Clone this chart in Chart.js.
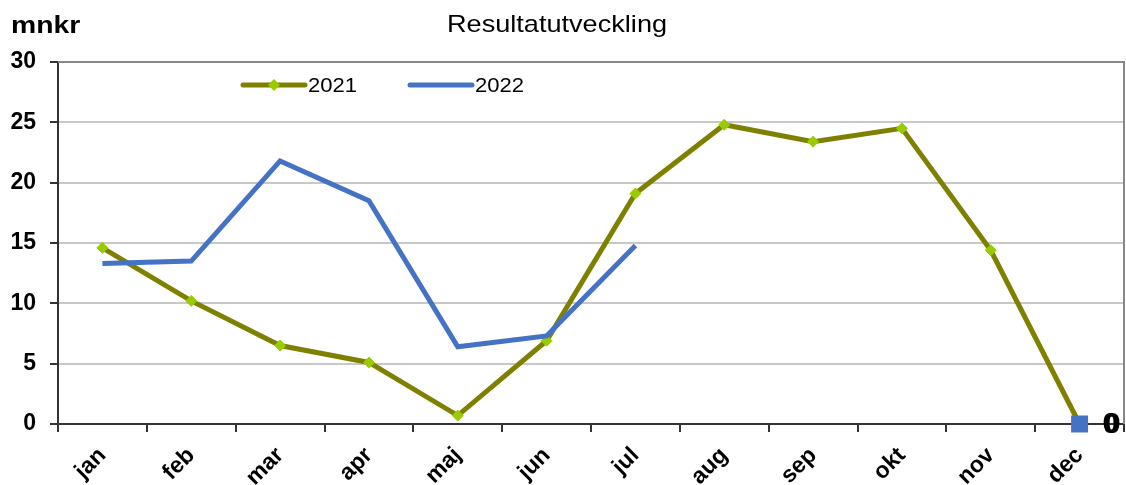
<!DOCTYPE html>
<html>
<head>
<meta charset="utf-8">
<script src="https://cdn.jsdelivr.net/npm/chart.js@4/dist/chart.umd.min.js"></script>
<style>
  html, body { margin: 0; padding: 0; background: #fff; }
  #wrap { width: 1126px; height: 485px; }
</style>
</head>
<body>
<div id="wrap"><canvas id="resultChart"></canvas></div>
<script>
const months = ['jan', 'feb', 'mar', 'apr', 'maj', 'jun', 'jul', 'aug', 'sep', 'okt', 'nov', 'dec'];
const values2021 = [14.6, 10.2, 6.5, 5.1, 0.7, 6.9, 19.1, 24.8, 23.4, 24.5, 14.4, 0];
const values2022 = [13.3, 13.5, 21.8, 18.5, 6.4, 7.3, 14.8, null, null, null, null, 0];
const yTicks = [0, 5, 10, 15, 20, 25, 30];

const olive = '#808000';
const lime = '#99cc00';
const blue = '#4472c4';
const fontFamily = '"Liberation Sans", Arial, sans-serif';

// text stretched a little wider, as in the original
function wideText(ctx, text, x, y, sx) {
    ctx.save();
    ctx.translate(x, y);
    ctx.scale(sx, 1);
    ctx.fillText(text, 0, 0);
    ctx.restore();
}

// title, unit, legend, plot frame and the "0" labels at dec
const decorations = {
    id: 'decorations',
    afterDraw(chart) {
        const ctx = chart.ctx;
        const area = chart.chartArea;
        ctx.save();

        ctx.strokeStyle = '#888888';
        ctx.lineWidth = 2;
        ctx.beginPath();
        ctx.moveTo(area.left, area.top);
        ctx.lineTo(area.right, area.top);
        ctx.lineTo(area.right, area.bottom);
        ctx.stroke();

        ctx.fillStyle = '#000';
        ctx.textBaseline = 'middle';
        ctx.font = '24px ' + fontFamily;
        ctx.textAlign = 'center';
        wideText(ctx, 'Resultatutveckling', 557, 25, 1.13);

        ctx.font = 'bold 24px ' + fontFamily;
        ctx.textAlign = 'left';
        wideText(ctx, 'mnkr', 11, 26, 1.18);

        // legend
        const items = [
            { x: 243, text: '2021', color: olive, marker: true },
            { x: 410, text: '2022', color: blue, marker: false }
        ];
        ctx.font = '21px ' + fontFamily;
        items.forEach(it => {
            const y = 85;
            ctx.strokeStyle = it.color;
            ctx.lineWidth = 5;
            ctx.lineCap = 'round';
            ctx.beginPath();
            ctx.moveTo(it.x, y);
            ctx.lineTo(it.x + 62, y);
            ctx.stroke();
            if (it.marker) {
                ctx.fillStyle = lime;
                ctx.beginPath();
                ctx.moveTo(it.x + 31, y - 6);
                ctx.lineTo(it.x + 37, y);
                ctx.lineTo(it.x + 31, y + 6);
                ctx.lineTo(it.x + 25, y);
                ctx.closePath();
                ctx.fill();
            }
            ctx.fillStyle = '#000';
            wideText(ctx, it.text, it.x + 65, y + 1, 1.05);
        });

        // data labels at the last point
        ctx.font = 'bold 29px ' + fontFamily;
        ctx.textAlign = 'left';
        chart.data.datasets.forEach((ds, i) => {
            const pt = chart.getDatasetMeta(i).data[months.length - 1];
            ctx.fillText(String(ds.data[months.length - 1]), pt.x + 23 + i * 2, pt.y + 1);
        });
        ctx.restore();
    }
};

new Chart(document.getElementById('resultChart'), {
    type: 'line',
    data: {
        labels: months,
        datasets: [{
            label: '2021',
            data: values2021,
            order: 2,
            clip: false,
            borderColor: olive,
            borderWidth: 5,
            backgroundColor: lime,
            pointStyle: 'rectRot',
            pointRadius: 5.5,
            pointBorderWidth: 1,
            pointBorderColor: lime,
            tension: 0
        }, {
            label: '2022',
            data: values2022,
            order: 1,
            clip: false,
            borderColor: blue,
            borderWidth: 5,
            backgroundColor: blue,
            pointStyle: 'rect',
            pointRadius: values2022.map((v, i) => i === months.length - 1 ? 12 : 0),
            pointBorderWidth: 0,
            spanGaps: false,
            tension: 0
        }]
    },
    options: {
        responsive: true,
        maintainAspectRatio: false,
        animation: false,
        layout: { autoPadding: false, padding: { top: 62, right: 2, left: 0, bottom: 0 } },
        plugins: {
            legend: { display: false },
            title: { display: false },
            tooltip: { enabled: false }
        },
        scales: {
            x: {
                offset: true,
                grid: { drawOnChartArea: false, offset: true, tickLength: 8, color: '#333', lineWidth: 2 },
                border: { color: '#333', width: 2 },
                ticks: {
                    color: '#000',
                    maxRotation: 45,
                    minRotation: 45,
                    padding: 10,
                    font: { family: fontFamily, size: 23, weight: 'bold' }
                },
                afterFit(scale) {
                    scale.height = 61;
                    scale.paddingLeft = 0;
                    scale.paddingRight = 0;
                }
            },
            y: {
                min: 0,
                max: 30,
                afterBuildTicks(scale) { scale.ticks = yTicks.map(v => ({ value: v })); },
                grid: {
                    color: ctx => ctx.tick && ctx.tick.value === 30 ? '#888888' : '#c8c8c8',
                    lineWidth: 2,
                    tickLength: 8,
                    tickColor: '#333'
                },
                border: { color: '#333', width: 2 },
                ticks: {
                    color: '#000',
                    padding: 14,
                    font: { family: fontFamily, size: 23, weight: 'bold' }
                },
                afterFit(scale) { scale.width = 58; }
            }
        }
    },
    plugins: [decorations]
});
</script>
</body>
</html>
